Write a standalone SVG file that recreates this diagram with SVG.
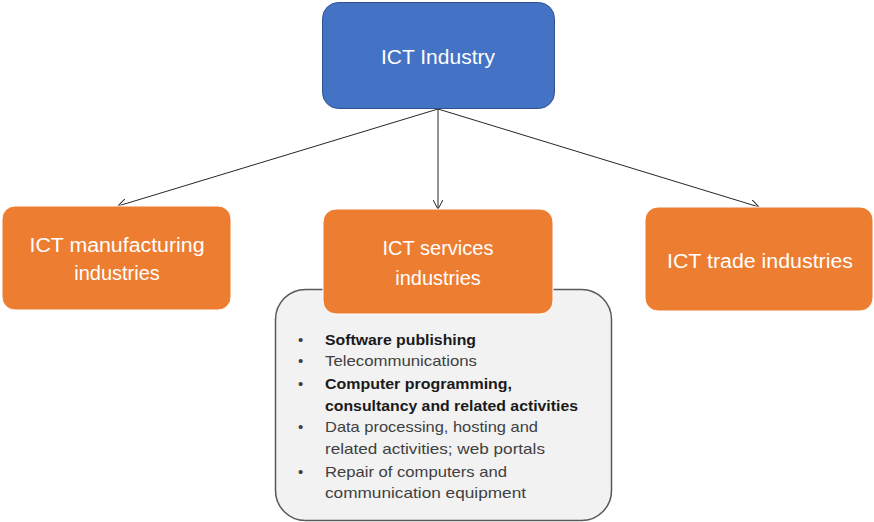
<svg xmlns="http://www.w3.org/2000/svg" width="874" height="522" viewBox="0 0 874 522">
<style>
.title{font-family:"Liberation Sans",Arial,sans-serif;font-size:20px;fill:#ffffff;text-anchor:middle}
.orange{fill:#ED7D31;stroke:#ffffff;stroke-width:1}
.item{font-family:"Liberation Sans",Arial,sans-serif;font-size:15px;fill:#404040}
.b{font-weight:bold;fill:#1a1a1a}
.conn{stroke:#262626;stroke-width:1;fill:none;marker-end:url(#arr)}
</style>
<defs>
<marker id="arr" viewBox="0 0 10 10" refX="9" refY="5" markerWidth="10" markerHeight="10" markerUnits="userSpaceOnUse" orient="auto">
<path d="M0,0 L9,5 L0,10" fill="none" stroke="#262626" stroke-width="1"/>
</marker>
</defs>
<g id="services-list">
<rect x="275.5" y="289.5" width="336" height="231" rx="30" ry="30" fill="#F2F2F2" stroke="#595959" stroke-width="1.5"/>
<g class="item">
<text x="298" y="345">•</text><text class="b" x="325" y="345" textLength="151" lengthAdjust="spacingAndGlyphs">Software publishing</text>
<text x="298" y="366">•</text><text x="325" y="366" textLength="152" lengthAdjust="spacingAndGlyphs">Telecommunications</text>
<text x="298" y="389">•</text><text class="b" x="325" y="389" textLength="187" lengthAdjust="spacingAndGlyphs">Computer programming,</text>
<text class="b" x="325" y="411" textLength="253" lengthAdjust="spacingAndGlyphs">consultancy and related activities</text>
<text x="298" y="432">•</text><text x="325" y="432" textLength="213" lengthAdjust="spacingAndGlyphs">Data processing, hosting and</text>
<text x="325" y="454" textLength="220" lengthAdjust="spacingAndGlyphs">related activities; web portals</text>
<text x="298" y="477">•</text><text x="325" y="477" textLength="182" lengthAdjust="spacingAndGlyphs">Repair of computers and</text>
<text x="325" y="498" textLength="201" lengthAdjust="spacingAndGlyphs">communication equipment</text>
</g>
</g>
<g id="connectors">
<line class="conn" x1="438" y1="109" x2="118" y2="206"/>
<line class="conn" x1="438" y1="109" x2="438" y2="209"/>
<line class="conn" x1="438" y1="109" x2="759" y2="207"/>
</g>
<g id="ict-industry">
<rect x="322.5" y="2.5" width="232" height="106" rx="16" ry="16" fill="#4472C4" stroke="#2F528F" stroke-width="1"/>
<text class="title" x="438" y="64" textLength="114" lengthAdjust="spacingAndGlyphs">ICT Industry</text>
</g>
<g id="ict-manufacturing">
<rect class="orange" x="2" y="206" width="229" height="104" rx="13" ry="13"/>
<text class="title" x="117" y="252" textLength="175" lengthAdjust="spacingAndGlyphs">ICT manufacturing</text>
<text class="title" x="117" y="280">industries</text>
</g>
<g id="ict-services">
<rect class="orange" x="323" y="209" width="230" height="105" rx="13" ry="13"/>
<text class="title" x="438" y="255" textLength="111" lengthAdjust="spacingAndGlyphs">ICT services</text>
<text class="title" x="438" y="285">industries</text>
</g>
<g id="ict-trade">
<rect class="orange" x="645" y="207" width="228" height="104" rx="13" ry="13"/>
<text class="title" x="760" y="268" textLength="186" lengthAdjust="spacingAndGlyphs">ICT trade industries</text>
</g>
</svg>
